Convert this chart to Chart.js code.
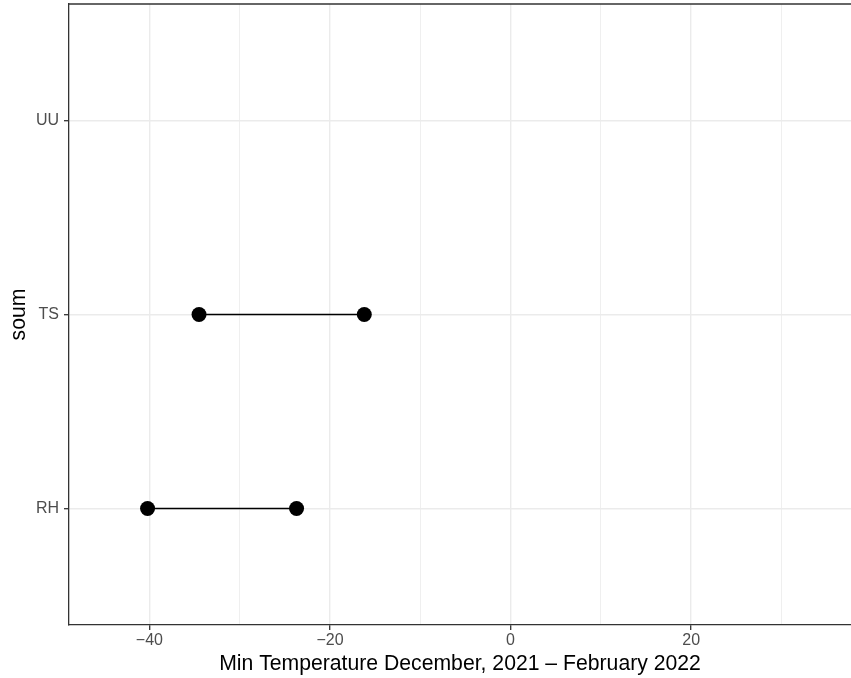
<!DOCTYPE html>
<html>
<head>
<meta charset="utf-8">
<script src="https://cdn.jsdelivr.net/npm/chart.js@4"></script>
<style>
  html, body { margin: 0; padding: 0; background: #fff; overflow: hidden; }
  #wrap { width: 851px; height: 678px; position: relative; }
  canvas { display: block; }
</style>
</head>
<body>
<div id="wrap"><canvas id="chart"></canvas></div>
<script>
// soums on the y axis, bottom to top
const soums = ['RH', 'TS', 'UU'];
// lowest and highest min temperature per soum (UU has no data)
const tempLow = [-40.2, -34.5, null];
const tempHigh = [-23.7, -16.2, null];
// x axis ticks
const xMajorTicks = [-40, -20, 0, 20];
const xMinorTicks = [-30, -10, 10, 30];
const xRange = [-48.9, 37.7];

const tickFont = { family: 'Liberation Sans, Arial, sans-serif', size: 16 };
const titleFont = { family: 'Liberation Sans, Arial, sans-serif', size: 21.2 };

// one line per soum, from low to high
const datasets = soums.map((s, i) => ({
    label: s,
    data: tempLow[i] === null ? [] : [
        { x: tempLow[i], y: i + 1 },
        { x: tempHigh[i], y: i + 1 }
    ],
    borderColor: '#000',
    backgroundColor: '#000',
    borderWidth: 1.5,
    pointRadius: 7.5,
    pointHoverRadius: 7.5,
    pointBorderWidth: 0,
    showLine: true
}));

// top border of the panel
const frameTop = {
    id: 'frameTop',
    afterDraw(chart) {
        const { ctx, chartArea } = chart;
        ctx.save();
        ctx.strokeStyle = '#333333';
        ctx.lineWidth = 1.3;
        ctx.beginPath();
        ctx.moveTo(chartArea.left, chartArea.top);
        ctx.lineTo(chartArea.right, chartArea.top);
        ctx.stroke();
        ctx.restore();
    }
};

const isMajor = v => xMajorTicks.includes(v);

// no extra room for half labels at the axis ends
function noPadding(scale) {
    scale.paddingTop = 0;
    scale.paddingBottom = 0;
    scale.paddingLeft = 0;
    scale.paddingRight = 0;
}

new Chart(document.getElementById('chart'), {
    type: 'scatter',
    data: { datasets },
    options: {
        responsive: true,
        maintainAspectRatio: false,
        animation: false,
        layout: { autoPadding: false, padding: { top: 4, right: 0, bottom: 0, left: 0 } },
        plugins: {
            legend: { display: false },
            tooltip: { enabled: false }
        },
        scales: {
            x: {
                type: 'linear',
                min: xRange[0],
                max: xRange[1],
                afterBuildTicks: scale => {
                    scale.ticks = [...xMajorTicks, ...xMinorTicks]
                        .sort((a, b) => a - b)
                        .map(v => ({ value: v }));
                },
                afterFit: scale => { scale.height = 53; noPadding(scale); },
                grid: {
                    color: '#EBEBEB',
                    lineWidth: ctx => isMajor(ctx.tick.value) ? 1.4 : 0.8,
                    tickColor: ctx => isMajor(ctx.tick.value) ? '#333333' : 'rgba(0,0,0,0)',
                    tickLength: 5,
                    tickWidth: 1.3
                },
                border: { color: '#333333', width: 1.3 },
                ticks: {
                    color: '#4D4D4D',
                    font: tickFont,
                    padding: 1,
                    maxRotation: 0,
                    autoSkip: false,
                    callback: v => isMajor(v) ? String(v).replace('-', '\u2212') : ''
                },
                title: {
                    display: true,
                    text: 'Min Temperature December, 2021 \u2013 February 2022',
                    color: '#000',
                    font: titleFont,
                    padding: { top: 0, bottom: 1 }
                }
            },
            y: {
                type: 'linear',
                min: 0.4,
                max: 3.6,
                afterBuildTicks: scale => {
                    scale.ticks = soums.map((s, i) => ({ value: i + 1 }));
                },
                afterFit: scale => { scale.width = 69; noPadding(scale); },
                grid: {
                    color: '#EBEBEB',
                    lineWidth: 1.4,
                    tickColor: '#333333',
                    tickLength: 5,
                    tickWidth: 1.3
                },
                border: { color: '#333333', width: 1.3 },
                ticks: {
                    color: '#4D4D4D',
                    font: tickFont,
                    padding: 5,
                    autoSkip: false,
                    callback: v => soums[v - 1] || ''
                },
                title: {
                    display: true,
                    text: 'soum',
                    color: '#000',
                    font: titleFont,
                    padding: { top: 6, bottom: 0 }
                }
            }
        }
    },
    plugins: [frameTop]
});
</script>
</body>
</html>
